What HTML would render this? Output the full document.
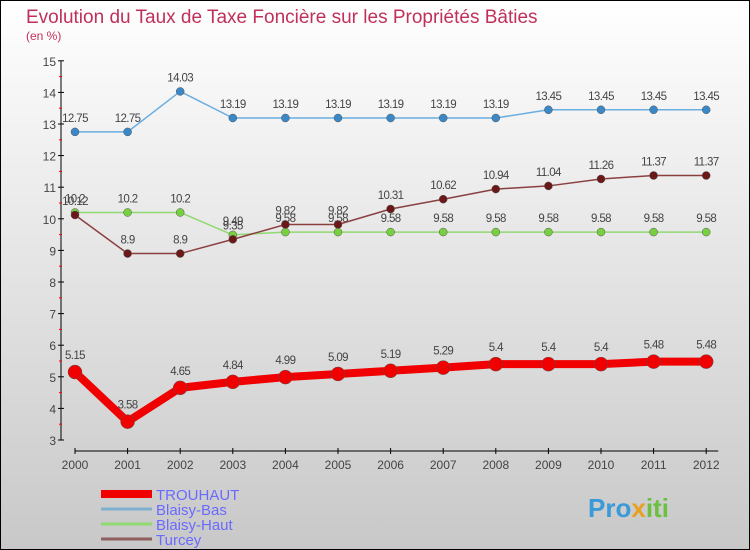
<!DOCTYPE html>
<html><head><meta charset="utf-8"><style>
body{margin:0;}
#c{position:relative;width:748px;height:548px;border:1px solid #000;background:linear-gradient(#fff,#c8c8c8);font-family:"Liberation Sans",sans-serif;overflow:hidden}
</style></head><body>
<div id="c">
<svg id="s" width="748" height="548" style="position:absolute;left:0;top:0">
<text x="25" y="22" font-size="19" fill="#c0305a">Evolution du Taux de Taxe Foncière sur les Propriétés Bâties</text>
<text x="25" y="39" font-size="12" fill="#c0305a">(en %)</text>
<text x="587" y="516" font-size="26" font-weight="bold" fill="#3a9ad9">Pro<tspan fill="#e8a020">x</tspan><tspan fill="#6cc040">iti</tspan></text>
</svg>
</div>
<script>
const years=[2000,2001,2002,2003,2004,2005,2006,2007,2008,2009,2010,2011,2012];
const trouhaut=[5.15,3.58,4.65,4.84,4.99,5.09,5.19,5.29,5.4,5.4,5.4,5.48,5.48];
const blaisyBas=[12.75,12.75,14.03,13.19,13.19,13.19,13.19,13.19,13.19,13.45,13.45,13.45,13.45];
const blaisyHaut=[10.2,10.2,10.2,9.49,9.58,9.58,9.58,9.58,9.58,9.58,9.58,9.58,9.58];
const turcey=[10.12,8.9,8.9,9.35,9.82,9.82,10.31,10.62,10.94,11.04,11.26,11.37,11.37];
const yTicks=[3,4,5,6,7,8,9,10,11,12,13,14,15];
const NS="http://www.w3.org/2000/svg";
const svg=document.getElementById('s');
const X=i=>74+i*52.6;
const Y=v=>439-(v-3)*31.6;
function el(t,a,p){const e=document.createElementNS(NS,t);for(const k in a)e.setAttribute(k,a[k]);(p||svg).appendChild(e);return e;}
// axes
let ya=el('line',{x1:60,y1:Y(15),x2:60,y2:Y(3),stroke:'#000'});


yTicks.forEach(v=>{
 el('line',{x1:57,x2:63,y1:Y(v),y2:Y(v),stroke:'#000'});
 if(v<15){el('line',{x1:58,x2:61,y1:Y(v+0.5),y2:Y(v+0.5),stroke:'#f00'});}
 const t=el('text',{x:55,y:Y(v)+5,'font-size':12,fill:'#444','text-anchor':'end'});t.textContent=v;
 
 
});
let xa=el('line',{x1:X(0),y1:450,x2:X(12)+12,y2:450,stroke:'#000'});


years.forEach((y,i)=>{
 el('line',{x1:X(i),x2:X(i),y1:447,y2:453,stroke:'#000'});
 const t=el('text',{x:X(i),y:468,'font-size':12,fill:'#444','text-anchor':'middle'});t.textContent=y;
 
 
});
function series(d,col,dot,w,r,name){
 const g=el('g',{});
 
 
 el('polyline',{points:d.map((v,i)=>X(i)+','+Y(v)).join(' '),fill:'none',stroke:col,'stroke-width':w,'stroke-linejoin':'round'},g);
 d.forEach((v,i)=>{
  const c=el('circle',{cx:X(i),cy:Y(v),r:r,fill:dot,stroke:'#555','stroke-width':0.5},g);
  
  
  const t=el('text',{x:X(i),y:Y(v)-r-6,'font-size':11.5,fill:'#444','text-anchor':'middle','letter-spacing':'-0.6'},g);t.textContent=v;
  
  
 });
}
series(blaisyBas,'#6aaee0','#3a88c8',1.5,4,'blaisy-bas-series');
series(blaisyHaut,'#90d870','#78d040',1.5,4,'blaisy-haut-series');
series(turcey,'#8a4040','#6a1818',1.5,4,'turcey-series');
series(trouhaut,'#f00000','#f00000',8,7,'trouhaut-series');
// legend
const leg=[['TROUHAUT','#f00000',8],['Blaisy-Bas','#80b0d0',3],['Blaisy-Haut','#90d870',3],['Turcey','#906060',3]];
leg.forEach((l,i)=>{
 const y=493+i*15;
 const g=el('g',{});
 
 
 el('line',{x1:100,x2:151,y1:y,y2:y,stroke:l[1],'stroke-width':l[2]},g);
 const t=el('text',{x:155,y:y+6,'font-size':15,fill:'#6a6aff'},g);t.textContent=l[0];
});
</script>
</body></html>
